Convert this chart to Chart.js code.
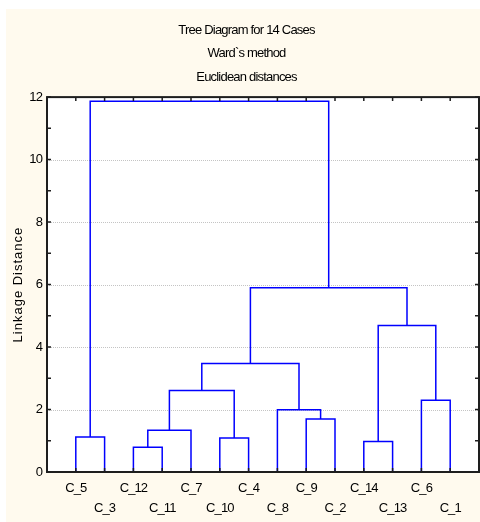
<!DOCTYPE html>
<html><head><meta charset="utf-8">
<script src="https://cdn.jsdelivr.net/npm/chart.js@4/dist/chart.umd.min.js"></script>
<style>html,body{margin:0;padding:0;background:#ffffff;}canvas{display:block}</style>
</head><body>
<canvas id="c" width="480" height="522"></canvas>
<script>
// ---- data ----
const titleLines = ['Tree Diagram for 14 Cases', 'Ward`s method', 'Euclidean distances'];
const yAxisTitle = 'Linkage Distance';
const leaves = ['C_5','C_3','C_12','C_11','C_7','C_10','C_4','C_8','C_9','C_2','C_14','C_13','C_6','C_1'];
// linkage: clusters 0..13 are leaves, each merge k creates cluster 14+k
const mergeA = [2, 10, 5, 0, 14, 8, 7, 12, 18, 22, 15, 23, 17];
const mergeB = [3, 11, 6, 1, 4, 9, 19, 13, 16, 20, 21, 24, 25];
const mergeH = [0.79, 0.98, 1.09, 1.12, 1.34, 1.70, 1.99, 2.30, 2.61, 3.47, 4.69, 5.90, 11.87];
const yMin = 0, yMax = 12, yLabelStep = 2;

const FONT = "'Liberation Sans Narrow', 'Arial Narrow', 'Liberation Sans', Arial, sans-serif";
const LINE = '#0000ff';
const CREAM = '#fffaee';

// positions of clusters along the leaf axis (leaf i at i+1), heights
const posX = leaves.map((_, i) => i + 1);
const posH = leaves.map(() => 0);
const datasets = [];
mergeA.forEach((a, k) => {
  const b = mergeB[k], h = mergeH[k];
  const xa = posX[a], xb = posX[b];
  const l = xa <= xb ? a : b, r = xa <= xb ? b : a;
  datasets.push({
    data: [{x: posX[l], y: posH[l]}, {x: posX[l], y: h}, {x: posX[r], y: h}, {x: posX[r], y: posH[r]}],
    showLine: true, borderColor: LINE, borderWidth: 1.5, pointRadius: 0, tension: 0, fill: false
  });
  posX.push((xa + xb) / 2);
  posH.push(h);
});

function patch(obj, name, fn) {
  if (!obj || obj['_p_' + name]) return;
  const orig = obj[name];
  obj[name] = function (...args) { const c = this.ctx; c.save(); fn(c); orig.apply(this, args); c.restore(); };
  obj['_p_' + name] = true;
}

const deco = {
  id: 'deco',
  beforeDraw(chart) {
    const c = chart.ctx;
    c.save();
    c.fillStyle = '#ffffff'; c.fillRect(0, 0, chart.width, chart.height);
    c.fillStyle = CREAM; c.fillRect(6, 9, chart.width - 6, chart.height - 9);
    c.restore();
    const tight = c => { c.letterSpacing = '-0.9px'; };
    patch(chart.scales.y, 'drawTitle', c => { c.letterSpacing = '1px'; c.translate(1, 0); });
    patch(chart.scales.y, 'drawLabels', tight);
    patch(chart.scales.x, 'drawLabels', tight);
    patch(chart.titleBlock, 'draw', c => { c.letterSpacing = '-0.8px'; c.translate(7, 0); });
  },
  beforeDatasetsDraw(chart) {
    const c = chart.ctx, a = chart.chartArea, ys = chart.scales.y;
    c.save();
    c.fillStyle = '#ffffff'; c.fillRect(a.left, a.top, a.right - a.left, a.bottom - a.top);
    c.strokeStyle = '#c4c4c4'; c.lineWidth = 1; c.setLineDash([1, 1]);
    for (let v = yMin + yLabelStep; v < yMax; v += yLabelStep) {
      const y = Math.round(ys.getPixelForValue(v)) + 0.5;
      c.beginPath(); c.moveTo(a.left, y); c.lineTo(a.right, y); c.stroke();
    }
    c.restore();
  },
  afterDatasetsDraw(chart) {
    const c = chart.ctx, a = chart.chartArea, xs = chart.scales.x, ys = chart.scales.y;
    c.save();
    c.strokeStyle = '#1e1e1e'; c.lineWidth = 2; c.setLineDash([]);
    c.strokeRect(a.left, a.top, a.right - a.left, a.bottom - a.top);
    c.lineWidth = 1.5;
    c.beginPath();
    leaves.forEach((_, i) => {
      const x = xs.getPixelForValue(i + 1);
      c.moveTo(x, a.top); c.lineTo(x, a.top + 4);
      c.moveTo(x, a.bottom); c.lineTo(x, a.bottom - 4);
    });
    for (let v = yMin; v <= yMax; v++) {
      const y = ys.getPixelForValue(v);
      c.moveTo(a.left, y); c.lineTo(a.left + 4, y);
      c.moveTo(a.right, y); c.lineTo(a.right - 4, y);
    }
    c.stroke();
    c.restore();
  }
};

new Chart(document.getElementById('c'), {
  type: 'scatter',
  data: { datasets },
  plugins: [deco],
  options: {
    responsive: false, animation: false, devicePixelRatio: 1,
    layout: { padding: { top: 0, right: 1, left: 0, bottom: 0 } },
    plugins: {
      legend: { display: false }, tooltip: { enabled: false },
      title: {
        display: true, text: titleLines, color: '#000',
        font: { family: FONT, size: 13, weight: 'normal', lineHeight: 1.79 },
        padding: { top: 19, bottom: 8.3 }
      }
    },
    scales: {
      x: {
        type: 'linear', min: 0, max: leaves.length + 1,
        grid: { display: false, drawTicks: false }, border: { display: false },
        afterFit(s) { s.height = 50; s.paddingLeft = 0; s.paddingRight = 0; },
        ticks: {
          stepSize: 1, autoSkip: false, maxRotation: 0, color: '#000', padding: 6,
          font: { family: FONT, size: 13, lineHeight: 1.54 },
          callback(v) {
            const i = Math.round(v) - 1;
            if (i < 0 || i >= leaves.length) return '';
            return i % 2 === 0 ? [leaves[i], ''] : ['', leaves[i]];
          }
        }
      },
      y: {
        min: yMin, max: yMax,
        grid: { display: false, drawTicks: false }, border: { display: false },
        afterFit(s) { s.width = 47; s.paddingTop = 0; s.paddingBottom = 0; },
        title: { display: true, text: yAxisTitle, color: '#000', font: { family: FONT, size: 13 }, padding: { top: 10, bottom: 0 } },
        ticks: { stepSize: yLabelStep, color: '#000', padding: 5, font: { family: FONT, size: 13 } }
      }
    }
  }
});
</script>
</body></html>
